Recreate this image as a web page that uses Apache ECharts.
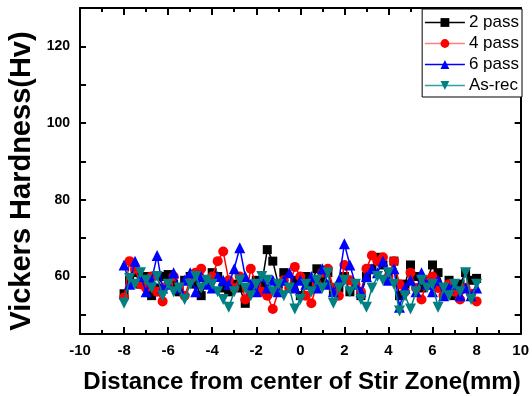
<!DOCTYPE html>
<html>
<head>
<meta charset="utf-8">
<script src="https://cdn.jsdelivr.net/npm/echarts@6/dist/echarts.min.js"></script>
<style>
html,body{margin:0;padding:0;background:#fff;}
#c{width:532px;height:396px;}
</style>
</head>
<body>
<div id="c"></div>
<script>
const xs = [-8,-7.75,-7.5,-7.25,-7,-6.75,-6.5,-6.25,-6,-5.75,-5.5,-5.25,-5,-4.75,-4.5,-4.25,-4,-3.75,-3.5,-3.25,-3,-2.75,-2.5,-2.25,-2,-1.75,-1.5,-1.25,-1,-0.75,-0.5,-0.25,0,0.25,0.5,0.75,1,1.25,1.5,1.75,2,2.25,2.5,2.75,3,3.25,3.5,3.75,4,4.25,4.5,4.75,5,5.25,5.5,5.75,6,6.25,6.5,6.75,7,7.25,7.5,7.75,8];
const pass2 = [55.5,59,61,58,60,55,57,60,60.5,58,56,59,60,58,55,59,61,60,57,56,58,57,53,56,59,58,67,64,58,61,57,59,55,60,58,62,59,61,56,57,60,56,58,55,60,62,65,63,59,64,55,58,63,60,57,59,63,61,57,59,55,58,61,59,59.5];
const pass4 = [54.5,64,62,58,57,60,56,53.5,58,60,57,55,59,61,62,58,60,64,66.5,59,57,60,54,62,58,56,55,51.5,56,59,57,62.5,60,55,53,58,61,62,57,55,63,59,58,56,62,65.5,64,65,60,64,58,56,61,57,54,59,60,57,55,58,56,54,57,55.5,53.5];
const pass6 = [63,58,64,60,56,59,65.5,57,58,61,57,59,61,56,60,58,57,60,59,58,62,67.5,60,58,56,60,57,59,56,59,61,57,59,58,60,57,62,58,56,59,68.5,63,58,56,60,62,61,64,59,62,52,57,59,56,61,58,56,59,55,57,58,55,57,55,57];
const asRec = [53,59.5,58,61,59,57,60,55,58,56,57,54,58,60,57,59,58,56,54,52,56,59,57,55,58,60,59,56,58,55,57,51.5,54,58,56,59,57,61,53,57,59,56,58,54,52,57,60,59,61,58,51,55,51.5,56,59,57,58,52,57,55,58,56,61,54,58];
const seriesNames = ['2 pass','4 pass','6 pass','As-rec'];
const seriesColors = ['#000000','#ff0000','#0000ff','#008080'];
const legendLineColors = ['#000000','#ff8080','#0000ff','#30a0a0'];
const xTicks = [-10,-8,-6,-4,-2,0,2,4,6,8,10];
const yLabels = [60,80,100,120];
const yTicks = [50,60,70,80,90,100,110,120];

const FONT = "'Liberation Sans', Arial, sans-serif";
const chart = echarts.init(document.getElementById('c'), null, {renderer:'canvas'});
const allVals = [pass2, pass4, pass6, asRec];
const symbols = ['rect','circle','triangle','triangle'];
const rot = [0,0,0,180];
const sizes = [9,10,11,11];

const series = allVals.map((vals, k) => ({
  name: seriesNames[k],
  type: 'line',
  data: xs.map((x, i) => [x, vals[i]]),
  symbol: symbols[k],
  symbolRotate: rot[k],
  symbolSize: sizes[k],
  showAllSymbol: true,
  color: seriesColors[k],
  lineStyle: {width: 1.5, color: seriesColors[k]},
  itemStyle: {color: seriesColors[k]},
  animation: false,
  z: 2 + k
}));

const axisLineStyle = {show: true, onZero: false, lineStyle: {color: '#000', width: 2}};
chart.setOption({
  animation: false,
  grid: {left: 80, right: 9, top: 8, bottom: 62, containLabel: false},
  legend: {
    orient: 'vertical', right: 10, top: 9,
    data: seriesNames.map((n, k) => ({name: n, lineStyle: {color: legendLineColors[k], width: 1.5}})),
    backgroundColor: '#fff', borderColor: '#000', borderWidth: 1, borderRadius: 0,
    padding: [5, 3, 3, 2],
    itemWidth: 40, itemHeight: 11, itemGap: 4,
    textStyle: {fontFamily: FONT, fontSize: 17, color: '#000', padding: [0,0,0,-1]},
    z: 10
  },
  xAxis: [{
    type: 'value', min: -10, max: 10, interval: 2,
    axisLine: axisLineStyle,
    axisTick: {inside: true, length: 7, lineStyle: {width: 2, color: '#000'}},
    minorTick: {show: true, splitNumber: 2, length: 4, lineStyle: {width: 2, color: '#000'}},
    axisLabel: {fontFamily: FONT, fontSize: 15, fontWeight: 'bold', color: '#000', margin: 9,
      customValues: xTicks},
    splitLine: {show: false}
  }, {
    type: 'value', min: -10, max: 10, interval: 2, position: 'top',
    axisLine: axisLineStyle,
    axisTick: {inside: true, length: 7, lineStyle: {width: 2, color: '#000'}},
    minorTick: {show: true, splitNumber: 2, length: 4, lineStyle: {width: 2, color: '#000'}},
    axisLabel: {show: false},
    splitLine: {show: false}
  }],
  yAxis: [{
    type: 'value', min: 45, max: 130,
    axisLine: axisLineStyle,
    axisTick: {inside: true, length: 6, lineStyle: {width: 2, color: '#000'}, customValues: yTicks},
    axisLabel: {fontFamily: FONT, fontSize: 14, fontWeight: 'bold', color: '#000', margin: 10,
      customValues: yLabels},
    splitLine: {show: false}
  }, {
    type: 'value', min: 45, max: 130, position: 'right',
    axisLine: axisLineStyle,
    axisTick: {inside: true, length: 6, lineStyle: {width: 2, color: '#000'}, customValues: yTicks},
    axisLabel: {show: false},
    splitLine: {show: false}
  }],
  graphic: [{
    type: 'text', x: 302, y: 382,
    style: {text: 'Distance from center of Stir Zone(mm)', font: "bold 24px " + FONT,
      textAlign: 'center', textVerticalAlign: 'middle', fill: '#000'}
  }, {
    type: 'text', x: 22, y: 181, rotation: Math.PI / 2,
    style: {text: 'Vickers Hardness(Hv)', font: "bold 29px " + FONT,
      textAlign: 'center', textVerticalAlign: 'middle', fill: '#000'}
  }],
  series: series
});
</script>
</body>
</html>
